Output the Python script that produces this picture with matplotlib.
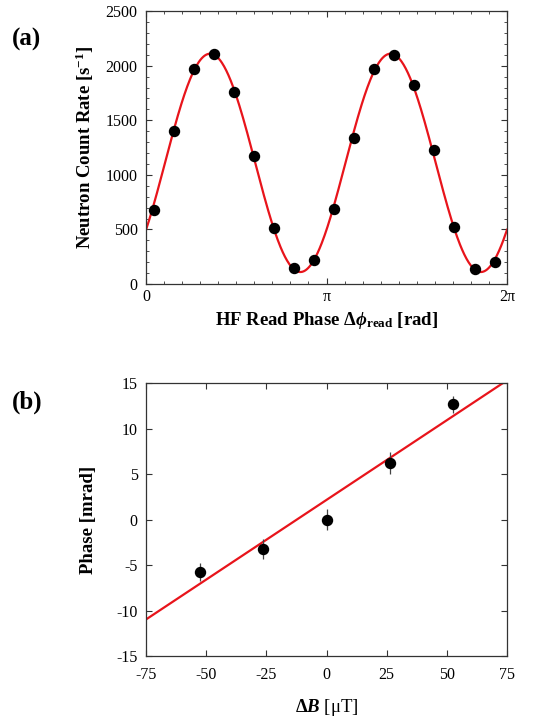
import numpy as np
import matplotlib.pyplot as plt
from matplotlib.ticker import MultipleLocator, FixedLocator

plt.rcParams['font.family'] = ['Liberation Serif', 'DejaVu Serif']
plt.rcParams['mathtext.fontset'] = 'custom'
plt.rcParams['mathtext.rm'] = 'Liberation Serif'
plt.rcParams['mathtext.it'] = 'Liberation Serif:italic:bold'
plt.rcParams['mathtext.bf'] = 'Liberation Serif:bold'
plt.rcParams['axes.unicode_minus'] = False

# panel (a): count rate vs read phase
phase_pts = 0.0422 * np.pi + np.arange(18) * np.pi / 9
counts = [681, 1404, 1972, 2109, 1761, 1175, 516, 143, 217,
          684, 1340, 1966, 2097, 1822, 1227, 525, 134, 205]
fit_offset = 1110
fit_amp = 1000
fit_peak = 0.355 * np.pi

# panel (b): phase shift vs field offset
dB = [-52.7, -26.4, 0.0, 26.4, 52.7]
phase = [-5.74, -3.22, 0.0, 6.22, 12.66]
phase_err = [1.0, 1.1, 1.2, 1.2, 0.9]
slope = 0.1752
intercept = 2.16


def style_axes(ax):
    ax.tick_params(which='both', direction='in', top=True, right=True,
                   labelsize=11.5, color='#333333')
    ax.tick_params(which='major', length=4)
    ax.tick_params(which='minor', length=2)
    ax.tick_params(axis='y', pad=6)
    for s in ax.spines.values():
        s.set_linewidth(0.9)
        s.set_color('#333333')


fig = plt.figure(figsize=(5.49, 7.22), dpi=100)

ax1 = fig.add_axes([0.266, 0.6066, 0.6575, 0.378])
t = np.linspace(0, 2 * np.pi, 500)
ax1.plot(t, fit_offset + fit_amp * np.cos(2 * (t - fit_peak)), color='#e8141b', lw=1.6)
ax1.plot(phase_pts, counts, 'o', color='black', ms=7.2)
ax1.set_xlim(0, 2 * np.pi)
ax1.set_ylim(0, 2500)
ax1.xaxis.set_major_locator(FixedLocator([0, np.pi, 2 * np.pi]))
ax1.set_xticklabels(['0', 'π', '2π'])
ax1.xaxis.set_minor_locator(MultipleLocator(np.pi / 10))
ax1.yaxis.set_major_locator(MultipleLocator(500))
ax1.yaxis.set_minor_locator(MultipleLocator(100))
style_axes(ax1)
ax1.set_ylabel(r'Neutron Count Rate [s$^{\mathbf{-1}}$]', fontsize=13.5, fontweight='bold', labelpad=7)
ax1.set_xlabel(r'HF Read Phase Δ$\phi_{\mathbf{read}}$ [rad]', fontsize=13.5, fontweight='bold', labelpad=4)

ax2 = fig.add_axes([0.266, 0.0914, 0.6575, 0.378])
xx = np.linspace(-75, 75, 10)
ax2.plot(xx, slope * xx + intercept, color='#e8141b', lw=1.6)
ax2.errorbar(dB, phase, yerr=phase_err, fmt='o', color='black', ms=7.2,
             ecolor='#444444', elinewidth=0.9, capsize=0)
ax2.set_xlim(-75, 75)
ax2.set_ylim(-15, 15)
ax2.xaxis.set_major_locator(MultipleLocator(25))
ax2.yaxis.set_major_locator(MultipleLocator(5))
style_axes(ax2)
ax2.tick_params(axis='x', pad=8)
ax2.set_ylabel('Phase [mrad]', fontsize=13.5, fontweight='bold', labelpad=14)
ax2.set_xlabel(r'$\mathbf{Δ}\mathit{B}$ [μT]', fontsize=13.5, labelpad=10)

fig.text(0.022, 0.945, '(a)', fontsize=18, fontweight='bold', va='center')
fig.text(0.022, 0.443, '(b)', fontsize=18, fontweight='bold', va='center')

fig.savefig('out.png', dpi=100)
